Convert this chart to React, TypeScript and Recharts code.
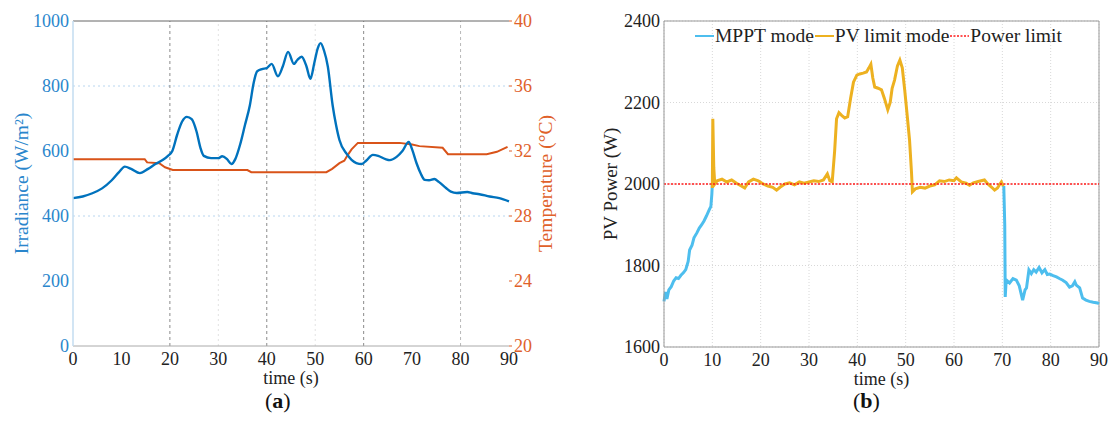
import { LineChart, Line, XAxis, YAxis, CartesianGrid, ReferenceLine } from "recharts";

const serif = "'Liberation Serif', 'Times New Roman', serif";

// (a) irradiance, W/m2
const irrTime = [0, 2, 4, 6, 8, 9.5, 10.7, 12, 13.8, 15.5, 17, 18.5, 19.6, 20.5, 21.5, 22.5, 23.5, 24.5, 25.5, 26.3, 27, 28.5, 30, 30.8, 31.8, 32.7, 33.5, 34.5, 35.5, 36.5, 37.3, 38, 39, 40, 41, 42.3, 43.3, 44.4, 45.6, 46.3, 47.2, 48.2, 49, 49.8, 50.5, 51.1, 51.8, 52.6, 53.6, 54.3, 55, 56.5, 57.5, 58.5, 59.6, 60.5, 61.9, 63, 64.5, 65.4, 66.8, 68, 69.3, 70, 70.9, 71.8, 72.6, 73.5, 74.6, 75.5, 77, 78, 79.2, 81.4, 82.5, 83.9, 86, 88, 90];
const irrValues = [455, 460, 470, 485, 510, 535, 552, 545, 532, 545, 560, 572, 585, 600, 650, 690, 705, 698, 660, 610, 585, 578, 578, 584, 575, 560, 575, 620, 680, 740, 810, 845, 852, 855, 868, 830, 860, 905, 868, 880, 890, 860, 822, 870, 915, 932, 910, 860, 740, 680, 634, 591, 573, 563, 560, 570, 588, 585, 575, 572, 582, 600, 628, 605, 563, 530, 511, 510, 514, 505, 486, 475, 471, 474, 470, 467, 460, 455, 445];

// (a) temperature, degC
const tempTime = [0, 14.8, 15.3, 17.8, 19, 20.6, 36, 36.8, 52.3, 53.5, 55, 56, 56.7, 57.5, 58.8, 67.4, 70, 71.5, 76.3, 77.4, 85.4, 87.5, 89.7];
const tempValues = [31.5, 31.5, 31.3, 31.25, 31.0, 30.83, 30.83, 30.7, 30.7, 30.9, 31.25, 31.4, 31.75, 32.1, 32.5, 32.5, 32.4, 32.3, 32.2, 31.8, 31.8, 31.95, 32.25];

// (b) PV power, W
const mpptStartTime = [0, 0.3, 0.6, 1, 1.5, 2, 2.5, 3, 3.5, 4, 4.5, 5, 5.3, 5.8, 6.2, 6.8, 7.3, 7.8, 8.3, 8.8, 9.3, 9.7, 9.9, 10];
const mpptStartPower = [1712, 1735, 1718, 1740, 1748, 1762, 1770, 1768, 1776, 1782, 1790, 1810, 1838, 1850, 1868, 1880, 1892, 1900, 1910, 1922, 1935, 1945, 1975, 2000];

const limitTime = [10, 10.1, 10.3, 10.5, 11, 12, 13, 14, 15, 16, 16.7, 17.5, 18.5, 19.5, 20.5, 21.5, 22.5, 23.3, 24, 25, 26, 27, 28, 29, 30, 31, 32, 33, 33.8, 34.3, 34.8, 35.3, 35.7, 36.2, 36.8, 37.4, 38, 38.6, 39.2, 39.9, 40.5, 41.2, 41.9, 42.4, 42.8, 43.2, 43.6, 44.3, 45, 45.6, 46.3, 46.8, 47.2, 47.7, 48.3, 48.8, 49.3, 49.8, 50.3, 50.8, 51.2, 51.4, 52, 53, 54, 55, 56, 57, 58, 59, 60, 60.5, 61.5, 62.5, 63.2, 64, 65, 66.3, 67, 67.8, 68.4, 69, 69.5, 69.8, 70.2];
const limitPower = [1990, 2160, 2040, 2000, 2008, 2012, 2005, 2010, 2002, 1995, 1990, 2005, 2012, 2008, 2000, 1995, 1992, 1985, 1992, 2000, 2003, 1998, 2005, 2002, 2005, 2008, 2006, 2010, 2025, 2008, 2005, 2080, 2160, 2175, 2168, 2162, 2165, 2210, 2250, 2267, 2270, 2272, 2275, 2285, 2294, 2260, 2238, 2235, 2231, 2210, 2182, 2200, 2235, 2255, 2290, 2304, 2285, 2231, 2170, 2108, 2030, 1981, 1988, 1992, 1990, 1995, 1998, 2008, 2006, 2010, 2008, 2015, 2005, 2002, 1997, 2003, 2006, 2010, 2000, 1992, 1985, 1990, 2000, 2005, 1995];

const mpptEndTime = [70.3, 70.5, 70.6, 70.8, 71.5, 72.2, 72.9, 73.5, 74.2, 74.7, 75, 75.5, 76, 76.5, 77, 77.6, 78.2, 78.8, 79.3, 79.8, 80.5, 81.2, 81.8, 82.5, 83.2, 83.9, 84.5, 85, 85.3, 86, 86.6, 87.3, 88, 88.8, 89.7, 90];
const mpptEndPower = [1995, 1900, 1723, 1765, 1757, 1768, 1764, 1750, 1715, 1740, 1745, 1789, 1780, 1790, 1784, 1795, 1782, 1790, 1778, 1779, 1775, 1772, 1768, 1764, 1758, 1747, 1750, 1760, 1752, 1745, 1720, 1715, 1712, 1710, 1708, 1706];

const limitLevel = 2000;

const timeTicks = [0, 10, 20, 30, 40, 50, 60, 70, 80, 90];
const irrTicks = [0, 200, 400, 600, 800, 1000];
const tempTicks = [20, 24, 28, 32, 36, 40];
const powerTicks = [1600, 1800, 2000, 2200, 2400];

const zip = (t: number[], v: number[]) => t.map((x, i) => ({ t: x, v: v[i] }));

const irrData = zip(irrTime, irrValues);
const tempData = zip(tempTime, tempValues);
const mpptA = zip(mpptStartTime, mpptStartPower);
const limitData = zip(limitTime, limitPower);
const mpptB = zip(mpptEndTime, mpptEndPower);
const limitLine = [
  { t: 0, v: limitLevel },
  { t: 90, v: limitLevel },
];

const BLUE = "#0072BD";
const ORANGE = "#D95319";
const MPPT = "#4DBEEE";
const PVLIM = "#EDB120";

const tickBlack = { fill: "#222", fontSize: 18, fontFamily: serif };

function LegendItem({ color, dashed, label }: { color: string; dashed?: boolean; label: string }) {
  return (
    <span style={{ display: "inline-flex", alignItems: "center" }}>
      <svg width={19} height={4}>
        <line x1={0} y1={2} x2={19} y2={2} stroke={color} strokeWidth={dashed ? 1.5 : 2} strokeDasharray={dashed ? "2 1.5" : undefined} />
      </svg>
      <span style={{ marginLeft: 1, marginRight: 1 }}>{label}</span>
    </span>
  );
}

export default function App() {
  return (
    <div style={{ position: "absolute", left: 0, top: 0, width: 1111, height: 425, background: "#fff", fontFamily: serif }}>
      {/* (a) */}
      <div style={{ position: "absolute", left: 0, top: 0 }}>
        <LineChart width={560} height={425} margin={{ top: 21, right: 0, left: 0, bottom: 0 }}>
          <XAxis
            dataKey="t"
            type="number"
            domain={[0, 90]}
            ticks={timeTicks}
            tick={tickBlack}
            tickLine={false}
            tickSize={4}
            tickMargin={2}
            stroke="#aaa"
            height={79}
            label={{ value: "time (s)", position: "insideBottom", offset: 41, fill: "#222", fontSize: 18, fontFamily: serif, style: { fontFamily: serif } }}
          />
          <YAxis
            yAxisId="irr"
            dataKey="v"
            domain={[0, 1000]}
            ticks={irrTicks}
            width={73}
            tick={{ fill: "#2a86cc", fontSize: 18, fontFamily: serif }}
            tickLine={false}
            tickSize={3}
            tickMargin={1}
            stroke="#c3dcf0"
            strokeWidth={1.5}
            label={{ value: "Irradiance (W/m²)", angle: -90, position: "insideLeft", offset: 21, fill: "#2a86cc", fontSize: 19.5, style: { textAnchor: "middle", fontFamily: serif } }}
          />
          <YAxis
            yAxisId="temp"
            orientation="right"
            dataKey="v"
            domain={[20, 40]}
            ticks={tempTicks}
            width={51}
            tick={{ fill: "#e0612a", fontSize: 18, fontFamily: serif }}
            axisLine={false}
            tickLine={{ stroke: "#e0612a" }}
            tickSize={3}
            tickMargin={2}
            label={{ value: "Temperature (°C)", angle: -90, position: "insideRight", offset: 15, fill: "#e0612a", fontSize: 19.5, style: { textAnchor: "middle", fontFamily: serif } }}
          />
          {[400, 800].map((y) => (
            <ReferenceLine key={"h" + y} yAxisId="irr" y={y} stroke="#b9d6ef" strokeDasharray="2 3" />
          ))}
          {[30, 50].map((x) => (
            <ReferenceLine key={"f" + x} yAxisId="irr" x={x} stroke="#e2e2e2" strokeDasharray="2 3" />
          ))}
          <ReferenceLine yAxisId="irr" x={80} stroke="#b8b8b8" strokeDasharray="3 3" />
          {[20, 40, 60].map((x) => (
            <ReferenceLine key={"s" + x} yAxisId="irr" x={x} stroke="#8a8a8a" strokeDasharray="3 3" />
          ))}
          <ReferenceLine yAxisId="irr" y={1000} stroke="#666" />
          <Line yAxisId="temp" data={tempData} dataKey="v" type="linear" stroke={ORANGE} strokeWidth={2} dot={false} isAnimationActive={false} />
          <Line yAxisId="irr" data={irrData} dataKey="v" type="monotone" stroke={BLUE} strokeWidth={2.4} dot={false} isAnimationActive={false} />
        </LineChart>
        <div style={{ position: "absolute", left: 265, top: 388, fontSize: 22, color: "#111" }}>
          (<b>a</b>)
        </div>
      </div>

      {/* (b) */}
      <div style={{ position: "absolute", left: 560, top: 0 }}>
        <LineChart width={551} height={425} margin={{ top: 21, right: 12, left: 0, bottom: 0 }}>
          <CartesianGrid stroke="#d8d8d8" strokeDasharray="1 2" />
          <XAxis
            dataKey="t"
            type="number"
            domain={[0, 90]}
            ticks={timeTicks}
            tick={tickBlack}
            tickLine={false}
            tickSize={4}
            tickMargin={2}
            stroke="#999"
            height={78}
            label={{ value: "time (s)", position: "insideBottom", offset: 40, fill: "#222", fontSize: 18, style: { fontFamily: serif } }}
          />
          <YAxis
            dataKey="v"
            domain={[1600, 2400]}
            ticks={powerTicks}
            width={104}
            tick={tickBlack}
            tickLine={false}
            tickSize={3}
            tickMargin={1}
            stroke="#999"
            label={{ value: "PV Power (W)", angle: -90, position: "insideLeft", offset: 50, fill: "#222", fontSize: 19, style: { textAnchor: "middle", fontFamily: serif } }}
          />
          <ReferenceLine y={2400} stroke="#999" />
          <ReferenceLine x={90} stroke="#999" />
          <Line data={mpptA} dataKey="v" type="linear" stroke={MPPT} strokeWidth={3} dot={false} isAnimationActive={false} />
          <Line data={mpptB} dataKey="v" type="linear" stroke={MPPT} strokeWidth={3} dot={false} isAnimationActive={false} />
          <Line data={limitData} dataKey="v" type="linear" stroke={PVLIM} strokeWidth={3} dot={false} isAnimationActive={false} />
          <Line data={limitLine} dataKey="v" type="linear" stroke="#ff1a1a" strokeWidth={1.5} strokeDasharray="2 1.5" dot={false} isAnimationActive={false} />
        </LineChart>
        <div style={{ position: "absolute", left: 135, top: 25, fontSize: 19.5, color: "#222", whiteSpace: "nowrap", display: "flex" }}>
          <LegendItem color={MPPT} label="MPPT mode" />
          <LegendItem color={PVLIM} label="PV limit mode" />
          <LegendItem color="#ff1a1a" dashed label="Power limit" />
        </div>
        <div style={{ position: "absolute", left: 293, top: 388, fontSize: 22, color: "#111" }}>
          (<b>b</b>)
        </div>
      </div>
    </div>
  );
}
